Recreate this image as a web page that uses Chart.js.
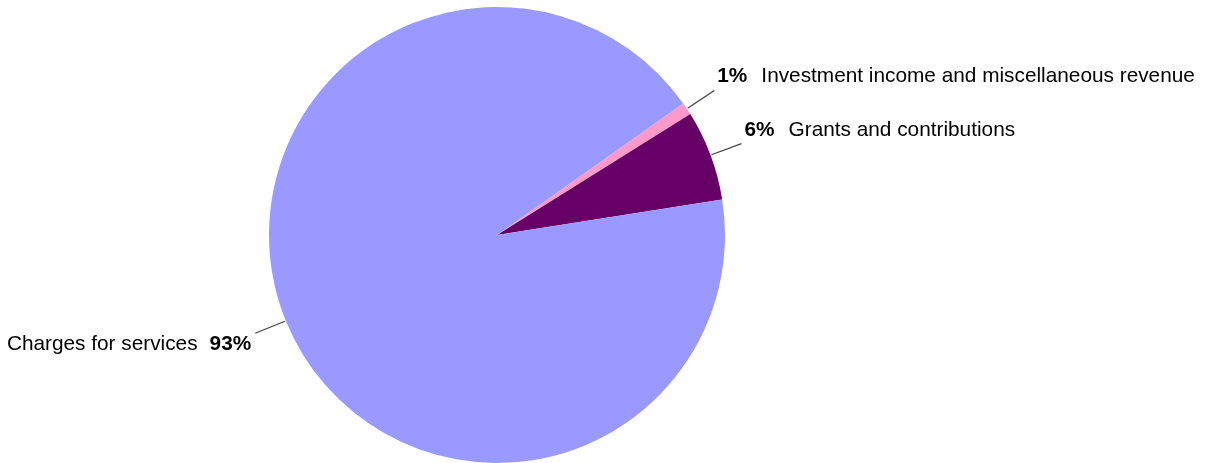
<!DOCTYPE html>
<html>
<head>
<meta charset="utf-8">
<script src="https://cdn.jsdelivr.net/npm/chart.js@4/dist/chart.umd.min.js"></script>
<style>
  html, body { margin: 0; padding: 0; background: #ffffff; }
  #wrap { width: 1207px; height: 463px; position: relative; }
</style>
</head>
<body>
<div id="wrap"><canvas id="c" width="1207" height="463"></canvas></div>
<script>
const categories = ['Investment income and miscellaneous revenue', 'Grants and contributions', 'Charges for services'];
const values = [0.9, 6.4, 92.7];
const percentLabels = ['1%', '6%', '93%'];
const colors = ['#FF99CC', '#660066', '#9999FF'];

const FONT = '"Liberation Sans", Arial, sans-serif';
const FS = 20.8;

const leaderPlugin = {
  id: 'leaders',
  afterDatasetsDraw(chart) {
    const ctx = chart.ctx;
    const meta = chart.getDatasetMeta(0);
    ctx.save();
    meta.data.forEach((arc, i) => {
      const p = arc.getProps(['x', 'y', 'startAngle', 'endAngle', 'outerRadius'], true);
      const mid = (p.startAngle + p.endAngle) / 2;
      const r0 = p.outerRadius + 1;
      const r1 = p.outerRadius + 33;
      const x0 = p.x + Math.cos(mid) * r0, y0 = p.y + Math.sin(mid) * r0;
      const x1 = p.x + Math.cos(mid) * r1, y1 = p.y + Math.sin(mid) * r1;
      ctx.strokeStyle = '#404040';
      ctx.lineWidth = 1.2;
      ctx.beginPath();
      ctx.moveTo(x0, y0);
      ctx.lineTo(x1, y1);
      ctx.stroke();
      ctx.fillStyle = '#000000';
      ctx.textBaseline = 'alphabetic';
      const right = Math.cos(mid) >= 0;
      ctx.font = 'bold ' + FS + 'px ' + FONT;
      const pw = ctx.measureText(percentLabels[i]).width;
      ctx.font = FS + 'px ' + FONT;
      const lw = ctx.measureText(categories[i]).width;
      ctx.textAlign = 'left';
      if (right) {
        const bx = x1 + 3, by = y1 - 8;
        ctx.font = 'bold ' + FS + 'px ' + FONT;
        ctx.fillText(percentLabels[i], bx, by);
        ctx.font = FS + 'px ' + FONT;
        ctx.fillText(categories[i], bx + pw + 14, by);
      } else {
        const ex = x1 - 4, by = y1 + 17;
        ctx.font = 'bold ' + FS + 'px ' + FONT;
        ctx.fillText(percentLabels[i], ex - pw, by);
        ctx.font = FS + 'px ' + FONT;
        ctx.fillText(categories[i], ex - pw - 12 - lw, by);
      }
    });
    ctx.restore();
  }
};

new Chart(document.getElementById('c'), {
  type: 'pie',
  data: {
    labels: categories,
    datasets: [{
      data: values,
      backgroundColor: colors,
      borderWidth: 0,
      hoverOffset: 0
    }]
  },
  options: {
    responsive: false,
    animation: false,
    rotation: 54.74,
    layout: { padding: { left: 0, right: 213, top: 7, bottom: 0 } },
    plugins: {
      legend: { display: false },
      tooltip: { enabled: false }
    }
  },
  plugins: [leaderPlugin]
});
</script>
</body>
</html>
